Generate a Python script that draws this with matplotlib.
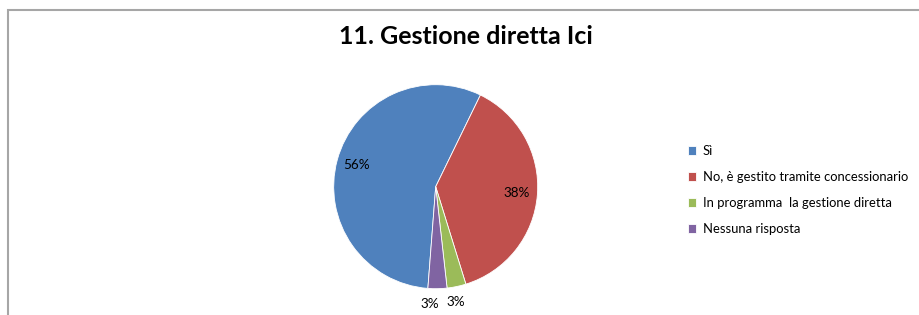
import matplotlib
matplotlib.use("Agg")
import matplotlib.pyplot as plt
import numpy as np
from matplotlib.patches import Rectangle

title = "11. Gestione diretta Ici"
categories = ["Sì", "No, è gestito tramite concessionario",
              "In programma  la gestione diretta", "Nessuna risposta"]
values = [56, 38, 3, 3]
colors = ["#4F81BD", "#C0504D", "#9BBB59", "#8064A2"]

plt.rcParams['font.family'] = ['Lato', 'DejaVu Sans']

W, H = 919, 315
fig = plt.figure(figsize=(W / 100, H / 100), dpi=100)

# chart border (cropped at right/bottom)
fig.patches.append(Rectangle((7.5 / W, -0.1), 1.2, (H - 9.5) / H + 0.1,
                             transform=fig.transFigure, fill=False,
                             edgecolor="#A6A6A6", linewidth=1.5))

cx, cy, r = 435.7, H - 186.7, 102
ax = fig.add_axes([(cx - r) / W, (cy - r) / H, 2 * r / W, 2 * r / H])
wedges, texts, autotexts = ax.pie(values, colors=colors, startangle=265.6,
                                  counterclock=False, autopct='%1.0f%%',
                                  pctdistance=0.8,
                                  wedgeprops=dict(edgecolor="white", linewidth=0.6),
                                  textprops=dict(fontsize=9.7, color="#000000"))
ax.set_xlim(-1, 1)
ax.set_ylim(-1, 1)
ax.set_aspect('equal')
ax.axis('off')

# small slices: labels outside, nudged apart
nudges = {2: -0.04, 3: -0.08}
for i, t in enumerate(autotexts):
    if values[i] < 10:
        w = wedges[i]
        ang = np.deg2rad((w.theta1 + w.theta2) / 2)
        x = 1.15 * np.cos(ang) + nudges.get(i, 0)
        y = 1.15 * np.sin(ang)
        t.set_position((x, y))

fig.text(466 / W, 1 - 37 / H, title, ha='center', va='center',
         fontsize=18, fontweight='bold')

leg = fig.legend(wedges, categories, loc='upper left',
                 bbox_to_anchor=(683 / W, 1 - 140 / H), frameon=False,
                 fontsize=9.4, handlelength=0.6, handleheight=0.6,
                 handletextpad=0.5, labelspacing=1.07, borderaxespad=0)

fig.savefig("out.png", dpi=100)
